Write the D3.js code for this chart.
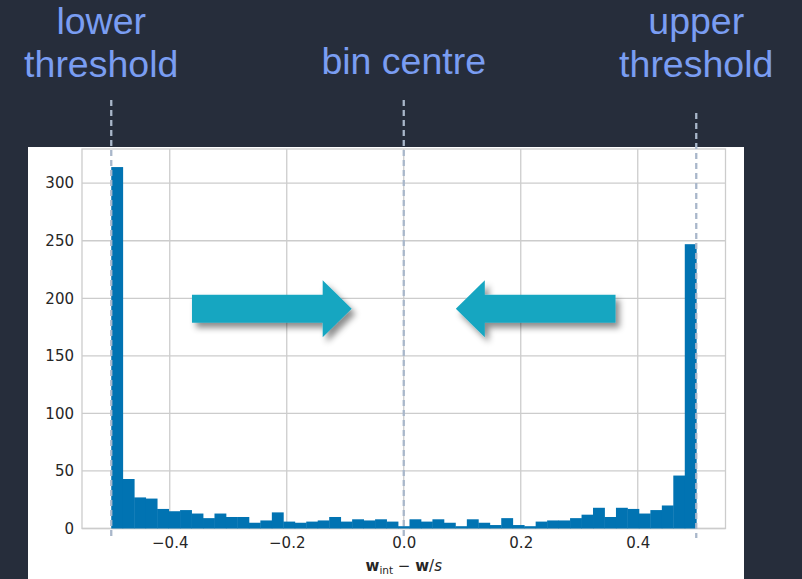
<!DOCTYPE html>
<html>
<head>
<meta charset="utf-8">
<script src="https://cdn.jsdelivr.net/npm/d3@7"></script>
<style>
  html, body { margin: 0; padding: 0; background: #262d3b; }
  svg { display: block; }
</style>
</head>
<body>
<svg id="chart" width="802" height="579"></svg>
<script>
// Histogram of rounding offsets: 51 equal-width bins spanning [-0.5, 0.5]
const binLow = -0.5;
const binHigh = 0.5;
const counts = [314, 43, 27, 26, 17, 15, 16, 13, 9, 13, 10, 10, 5, 7, 14, 6, 5, 6, 7, 10,
                6, 8, 7, 8, 6, 2, 8, 6, 8, 5, 2, 8, 5, 3, 9, 3, 2, 6, 7, 7,
                9, 12, 18, 10, 18, 17, 13, 16, 20, 46, 247];
const xTicks = [-0.4, -0.2, 0.0, 0.2, 0.4];
const yTicks = [0, 50, 100, 150, 200, 250, 300];

// Annotated reference positions on the x axis
const markerNames = [["lower", "threshold"], ["bin centre"], ["upper", "threshold"]];
const markerValues = [-0.5, 0.0, 0.5];

// Arrows pointing from both thresholds towards the bin centre
const arrowFrom = [-0.362, 0.362];
const arrowTo = [-0.089, 0.089];
const arrowLevel = 191;

const svg = d3.select("#chart");

const defs = svg.append("defs");
const shadow = defs.append("filter").attr("id", "arrowShadow")
  .attr("x", "-20%").attr("y", "-40%").attr("width", "150%").attr("height", "190%");
shadow.append("feDropShadow")
  .attr("dx", 4).attr("dy", 5).attr("stdDeviation", 3)
  .attr("flood-color", "#000").attr("flood-opacity", 0.45);

// white figure panel
svg.append("rect").attr("x", 28).attr("y", 147).attr("width", 716).attr("height", 432)
  .attr("fill", "#ffffff");

const plot = { left: 82, right: 725.5, top: 149, bottom: 528.5 };
const nBins = counts.length;
const binWidth = (binHigh - binLow) / nBins;
const xPad = 0.05 * (binHigh - binLow);

const x = d3.scaleLinear().domain([binLow - xPad, binHigh + xPad]).range([plot.left, plot.right]);
const y = d3.scaleLinear().domain([0, d3.max(counts) * 1.05]).range([plot.bottom, plot.top]);

const gridColor = "#cccccc";
const textColor = "#262626";
const font = "'DejaVu Sans', sans-serif";

// grid lines
svg.append("g").selectAll("line.gy").data(yTicks).join("line")
  .attr("x1", plot.left).attr("x2", plot.right)
  .attr("y1", d => y(d)).attr("y2", d => y(d))
  .attr("stroke", gridColor).attr("stroke-width", 1.3);
svg.append("g").selectAll("line.gx").data(xTicks).join("line")
  .attr("x1", d => x(d)).attr("x2", d => x(d))
  .attr("y1", plot.top).attr("y2", plot.bottom)
  .attr("stroke", gridColor).attr("stroke-width", 1.3);

// frame
svg.append("rect")
  .attr("x", plot.left).attr("y", plot.top)
  .attr("width", plot.right - plot.left).attr("height", plot.bottom - plot.top)
  .attr("fill", "none").attr("stroke", gridColor).attr("stroke-width", 1.3);

// histogram bars
const bins = counts.map((c, i) => ({ x0: binLow + i * binWidth, x1: binLow + (i + 1) * binWidth, count: c }));
svg.append("g").selectAll("rect").data(bins).join("rect")
  .attr("x", d => x(d.x0))
  .attr("width", d => x(d.x1) - x(d.x0) + 0.4)
  .attr("y", d => y(d.count))
  .attr("height", d => y(0) - y(d.count))
  .attr("fill", "#0173b2");

// tick labels
const yAxis = d3.axisLeft(y).tickValues(yTicks).tickSize(0).tickPadding(8).tickFormat(d3.format("d"));
const gy = svg.append("g").attr("transform", `translate(${plot.left},0)`).call(yAxis);
const xAxis = d3.axisBottom(x).tickValues(xTicks).tickSize(0).tickPadding(9).tickFormat(d3.format(".1f"));
const gx = svg.append("g").attr("transform", `translate(0,${plot.bottom})`).call(xAxis);
[gx, gy].forEach(g => {
  g.select(".domain").remove();
  g.selectAll("text").attr("font-family", font).attr("font-size", 15).attr("fill", textColor);
});

// x axis label: w_int − w/s
const xl = svg.append("text")
  .attr("x", x(0)).attr("y", 571)
  .attr("text-anchor", "middle")
  .attr("font-family", font).attr("font-size", 15).attr("fill", textColor);
xl.append("tspan").attr("font-weight", "bold").text("w");
xl.append("tspan").attr("font-size", 10.5).attr("dy", 3).text("int");
xl.append("tspan").attr("dy", -3).text(" \u2212 ");
xl.append("tspan").attr("font-weight", "bold").text("w");
xl.append("tspan").text("/");
xl.append("tspan").attr("font-style", "italic").text("s");

// arrows
const bodyHalf = 14, headHalf = 28.5, headLen = 29;
arrowFrom.forEach((f, i) => {
  const x0 = x(f), x1 = x(arrowTo[i]);
  const dir = Math.sign(x1 - x0);
  const xb = x1 - dir * headLen;
  const yc = y(arrowLevel);
  const pts = [[x0, yc - bodyHalf], [xb, yc - bodyHalf], [xb, yc - headHalf], [x1, yc],
               [xb, yc + headHalf], [xb, yc + bodyHalf], [x0, yc + bodyHalf]];
  svg.append("polygon")
    .attr("points", pts.map(p => p.join(",")).join(" "))
    .attr("fill", "#18a6c1")
    .attr("filter", "url(#arrowShadow)");
});

// dashed marker lines and their labels
const lineTops = [100, 100, 113];
const labelShift = [-10, 0, 0];
markerValues.forEach((v, i) => {
  svg.append("line")
    .attr("x1", x(v)).attr("x2", x(v))
    .attr("y1", lineTops[i]).attr("y2", 538)
    .attr("stroke", "#a9b7ca").attr("stroke-width", 2.3)
    .attr("stroke-dasharray", "6,4");
  const lines = markerNames[i];
  const t = svg.append("text")
    .attr("text-anchor", "middle")
    .attr("font-family", "'Liberation Sans', Arial, sans-serif")
    .attr("font-size", 37.5)
    .attr("fill", "#7a9df2");
  const base = lines.length === 2 ? 34 : 74;
  lines.forEach((s, j) => {
    t.append("tspan").attr("x", x(v) + labelShift[i]).attr("y", base + j * 43).text(s);
  });
});
</script>
</body>
</html>
